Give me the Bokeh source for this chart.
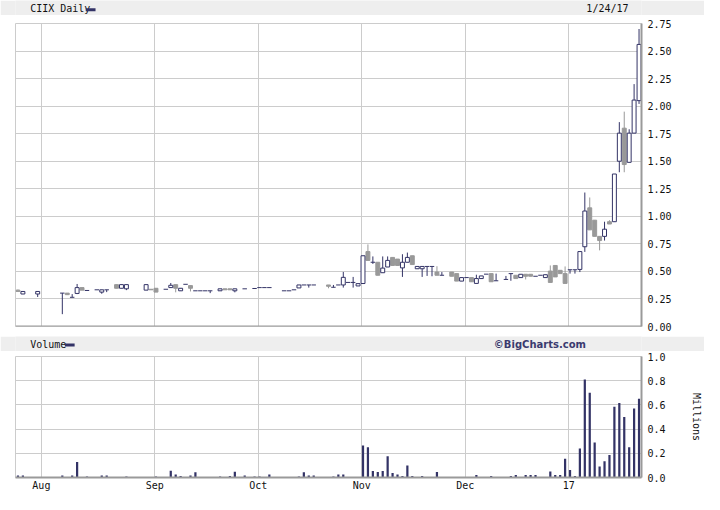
import math
from bokeh.plotting import figure
from bokeh.layouts import column
from bokeh.models import Range1d, FixedTicker, NumeralTickFormatter, ColumnDataSource, Span
from bokeh.core.properties import value
from bokeh.embed import file_html
from bokeh.resources import INLINE

# ---------------- data (trading days 25 Jul 2016 .. 24 Jan 2017) ----------------
N = None
opens = [0.330, 0.295, N, N, 0.295, N, N, N, N, 0.303,
         0.303, 0.265, 0.300, 0.353, 0.327, N, 0.333, 0.312, 0.333, N,
         0.380, 0.347, 0.342, N, N, N, 0.330, 0.338, 0.347, N,
         0.338, 0.353, 0.380, 0.324, 0.383, 0.371, 0.324, 0.324, 0.324, 0.324,
         N, 0.324, 0.342, 0.342, 0.324, N, 0.342, N, 0.345, 0.353,
         0.353, 0.353, N, N, 0.324, 0.324, 0.333, 0.350, 0.377, 0.377,
         0.377, N, N, 0.377, 0.356, 0.377, 0.377, 0.400, 0.400, 0.368,
         0.390, 0.680, 0.583, 0.583, 0.488, 0.540, 0.627, 0.612, 0.532, 0.583,
         0.642, 0.524, 0.524, 0.545, 0.545, 0.494, 0.465, N, 0.494, 0.480,
         0.412, 0.444, 0.444, 0.391, 0.435, 0.475, 0.480, 0.415, N, 0.427,
         0.480, 0.465, 0.444, 0.474, 0.474, 0.456, 0.465, 0.444, 0.503, 0.554,
         0.510, 0.480, 0.515, 0.515, 0.518, 0.724, 1.077, 0.965, 0.818, 0.818,
         0.951, 0.951, 1.500, 1.800, 1.490, 1.755, 2.050]
highs = [0.336, 0.318, N, N, 0.318, N, N, N, N, 0.303,
         0.303, 0.294, 0.386, 0.353, 0.327, N, 0.333, 0.333, 0.333, N,
         0.380, 0.380, 0.380, N, N, N, 0.380, 0.338, 0.347, N,
         0.338, 0.395, 0.380, 0.347, 0.383, 0.371, 0.324, 0.324, 0.324, 0.324,
         N, 0.342, 0.342, 0.342, 0.342, N, 0.342, N, 0.345, 0.353,
         0.353, 0.353, N, N, 0.324, 0.324, 0.333, 0.377, 0.377, 0.377,
         0.377, N, N, 0.377, 0.377, 0.377, 0.495, 0.400, 0.450, 0.389,
         0.642, 0.745, 0.636, 0.583, 0.636, 0.636, 0.627, 0.612, 0.656, 0.671,
         0.642, 0.545, 0.545, 0.545, 0.545, 0.547, 0.494, N, 0.494, 0.480,
         0.444, 0.444, 0.444, 0.470, 0.459, 0.475, 0.480, 0.480, N, 0.459,
         0.480, 0.465, 0.474, 0.474, 0.474, 0.456, 0.465, 0.470, 0.554, 0.554,
         0.510, 0.545, 0.515, 0.515, 0.680, 1.216, 1.171, 0.965, 0.818, 0.951,
         0.965, 1.384, 1.855, 1.950, 1.790, 2.200, 2.700]
lows = [0.318, 0.294, N, N, 0.268, N, N, N, N, 0.112,
        0.289, 0.265, 0.294, 0.330, 0.327, N, 0.333, 0.297, 0.312, N,
        0.347, 0.347, 0.330, N, N, N, 0.330, 0.333, 0.312, N,
        0.338, 0.353, 0.310, 0.324, 0.383, 0.318, 0.324, 0.324, 0.324, 0.303,
        N, 0.324, 0.333, 0.333, 0.310, N, 0.342, N, 0.345, 0.353,
        0.353, 0.353, N, N, 0.324, 0.324, 0.333, 0.350, 0.377, 0.353,
        0.377, N, N, 0.347, 0.356, 0.377, 0.353, 0.400, 0.353, 0.368,
        0.390, 0.598, 0.568, 0.465, 0.488, 0.540, 0.554, 0.554, 0.450, 0.583,
        0.562, 0.524, 0.450, 0.459, 0.456, 0.465, 0.465, N, 0.456, 0.412,
        0.412, 0.444, 0.406, 0.391, 0.435, 0.475, 0.406, 0.415, N, 0.427,
        0.415, 0.435, 0.444, 0.427, 0.456, 0.456, 0.465, 0.444, 0.400, 0.450,
        0.480, 0.391, 0.480, 0.480, 0.494, 0.677, 0.877, 0.818, 0.691, 0.780,
        0.930, 0.951, 1.400, 1.400, 1.490, 1.755, 2.020]
closes = [0.318, 0.318, N, N, 0.318, N, N, N, N, 0.303,
          0.289, 0.265, 0.353, 0.330, 0.327, N, 0.333, 0.333, 0.333, N,
          0.347, 0.380, 0.380, N, N, N, 0.380, 0.333, 0.312, N,
          0.338, 0.374, 0.347, 0.347, 0.383, 0.347, 0.324, 0.324, 0.324, 0.324,
          N, 0.342, 0.333, 0.333, 0.342, N, 0.342, N, 0.345, 0.353,
          0.353, 0.353, N, N, 0.324, 0.324, 0.333, 0.377, 0.377, 0.377,
          0.377, N, N, 0.365, 0.356, 0.377, 0.446, 0.400, 0.400, 0.389,
          0.642, 0.600, 0.583, 0.465, 0.530, 0.600, 0.554, 0.554, 0.583, 0.627,
          0.562, 0.545, 0.545, 0.545, 0.545, 0.465, 0.465, N, 0.456, 0.412,
          0.444, 0.444, 0.406, 0.435, 0.459, 0.475, 0.406, 0.415, N, 0.427,
          0.480, 0.435, 0.474, 0.456, 0.456, 0.456, 0.465, 0.470, 0.400, 0.450,
          0.480, 0.391, 0.515, 0.515, 0.680, 1.048, 0.877, 0.818, 0.780, 0.883,
          0.930, 1.384, 1.755, 1.470, 1.755, 2.055, 2.560]
volume_m = [0.016, 0.016, 0, 0, 0, 0, 0, 0, 0, 0.016,
            0, 0.016, 0.128, 0, 0.008, 0, 0, 0.016, 0.016, 0,
            0, 0, 0.008, 0, 0, 0, 0, 0, 0.008, 0,
            0, 0.056, 0.024, 0.012, 0, 0.016, 0.043, 0, 0, 0,
            0, 0.008, 0, 0.012, 0.048, 0, 0.016, 0, 0.008, 0.008,
            0, 0.024, 0, 0, 0, 0, 0, 0.008, 0.043, 0.016,
            0.016, 0, 0, 0, 0.008, 0.024, 0.024, 0, 0, 0.005,
            0.265, 0.250, 0.053, 0.045, 0.053, 0.175, 0.037, 0.024, 0.013, 0.100,
            0.013, 0.005, 0.013, 0.005, 0.005, 0.045, 0, 0, 0.005, 0,
            0, 0, 0, 0.020, 0.005, 0.005, 0.013, 0.005, 0, 0,
            0.013, 0.020, 0, 0.020, 0.020, 0.020, 0.005, 0.005, 0.050, 0.020,
            0.020, 0.155, 0.061, 0.013, 0.240, 0.810, 0.700, 0.290, 0.090, 0.135,
            0.185, 0.585, 0.615, 0.500, 0.250, 0.570, 0.650]
month_start_day = [5, 28, 49, 70, 91, 112]
month_labels = ["Aug", "Sep", "Oct", "Nov", "Dec", "17"]
price_ticks = [0.25 * k for k in range(12)]
volume_ticks = [0.2 * k for k in range(6)]
last_date = "1/24/17"

# ---------------- styling ----------------
NAVY = "#333366"
GRAYC = "#999999"
GRID = "#cccccc"
BAND = "#eeeeee"
AXIS = "#9a9a9a"
TXT = "#111111"
MONO = "DejaVu Sans Mono"
W = 704
ndays = len(closes)
month_ticks = [d + 0.25 for d in month_start_day]

# split candles
hol = dict(x=[], top=[], bottom=[])
fil = dict(x=[], top=[], bottom=[])
flat = dict(x0=[], x1=[], y=[])
wn = dict(x=[], y0=[], y1=[])
wg = dict(x=[], y0=[], y1=[])
for i in range(ndays):
    o, h, l, c = opens[i], highs[i], lows[i], closes[i]
    if c is None:
        continue
    x = i + 0.5
    if c > o:
        hol["x"].append(x); hol["top"].append(c); hol["bottom"].append(o)
        wn["x"].append(x); wn["y0"].append(l); wn["y1"].append(h)
    elif c < o:
        fil["x"].append(x); fil["top"].append(o); fil["bottom"].append(c)
        wg["x"].append(x); wg["y0"].append(l); wg["y1"].append(h)
    else:
        flat["x0"].append(x - 0.45); flat["x1"].append(x + 0.45); flat["y"].append(c)
        wn["x"].append(x); wn["y0"].append(l); wn["y1"].append(h)


def band(h, left_text, dash_x, right_text, right_bold, ty):
    f = figure(width=W, height=h, x_range=Range1d(0, W), y_range=Range1d(0, h),
               output_backend="svg", toolbar_location=None,
               x_axis_location=None, y_axis_location=None, min_border=0,
               background_fill_color=BAND, border_fill_color=BAND, outline_line_color=None)
    f.xgrid.visible = False
    f.ygrid.visible = False
    f.text(x=[16.5], y=[ty], text=[left_text], text_font=value(MONO), text_font_size="10px",
           text_baseline="middle", text_align="left", text_color=TXT)
    f.quad(left=[dash_x], right=[dash_x + 11], bottom=[ty - 2.5], top=[ty + 0.5],
           fill_color=NAVY, line_color=None)
    if right_bold:
        f.text(x=[641.5], y=[ty], text=[right_text], text_font=value("DejaVu Sans"),
               text_font_size="10px", text_font_style="bold", text_baseline="middle",
               text_align="right", text_color="#3a3a6e")
    else:
        f.text(x=[642], y=[ty], text=[right_text], text_font=value(MONO),
               text_font_size="10px", text_baseline="middle", text_align="left",
               text_color=TXT)
    return f


head1 = band(15, "CIIX Daily", 79, last_date, False, 6.8)
head2 = band(15, "Volume", 55.5, "\u00a9BigCharts.com", True, 7.5)


def style_right_axis(f, ticks, fmt):
    ax = f.yaxis[0]
    ax.ticker = FixedTicker(ticks=ticks)
    ax.formatter = NumeralTickFormatter(format=fmt)
    ax.major_tick_line_color = None
    ax.minor_tick_line_color = None
    ax.major_tick_out = 0
    ax.major_label_standoff = 6
    ax.axis_line_color = AXIS
    ax.axis_line_width = 2
    ax.major_label_text_font = MONO
    ax.major_label_text_font_size = "10px"
    ax.major_label_text_color = TXT
    f.ygrid.grid_line_color = GRID
    f.xgrid.ticker = FixedTicker(ticks=month_ticks)
    f.xgrid.grid_line_color = GRID
    f.outline_line_color = GRID


# ---------------- price panel ----------------
p = figure(width=W, height=321, x_range=Range1d(0, ndays), y_range=Range1d(0, 2.75),
           output_backend="svg", toolbar_location=None,
           x_axis_location=None, y_axis_location="right",
           min_border_left=15, min_border_right=62, min_border_top=8, min_border_bottom=10)
style_right_axis(p, price_ticks, "0.00")
p.add_layout(Span(location=0, dimension="width", line_color=AXIS, line_width=2))

p.segment(x0="x", y0="y0", x1="x", y1="y1", source=ColumnDataSource(wn), line_color=NAVY, line_width=1)
p.segment(x0="x", y0="y0", x1="x", y1="y1", source=ColumnDataSource(wg), line_color=GRAYC, line_width=1)
p.vbar(x="x", top="top", bottom="bottom", width=0.8, source=ColumnDataSource(fil),
       fill_color=GRAYC, line_color=GRAYC, line_width=1)
p.vbar(x="x", top="top", bottom="bottom", width=0.8, source=ColumnDataSource(hol),
       fill_color="white", line_color=NAVY, line_width=1)
p.segment(x0="x0", y0="y", x1="x1", y1="y", source=ColumnDataSource(flat), line_color=NAVY, line_width=1)

# ---------------- volume panel ----------------
v = figure(width=W, height=143, x_range=p.x_range, y_range=Range1d(0, 1.0),
           output_backend="svg", toolbar_location=None,
           x_axis_location="below", y_axis_location="right",
           min_border_left=15, min_border_right=62, min_border_top=5, min_border_bottom=17)
style_right_axis(v, volume_ticks, "0.0")
va = v.yaxis[0]
va.axis_label = "Millions"
va.axis_label_standoff = 22
va.axis_label_text_font = MONO
va.axis_label_text_font_size = "10px"
va.axis_label_text_font_style = "normal"
va.axis_label_text_color = TXT

xa = v.xaxis[0]
xa.ticker = FixedTicker(ticks=month_ticks)
xa.major_label_overrides = {t: lab for t, lab in zip(month_ticks, month_labels)}
xa.major_tick_line_color = None
xa.minor_tick_line_color = None
xa.major_tick_out = 0
xa.major_label_standoff = 2
xa.axis_line_color = AXIS
xa.axis_line_width = 2
xa.major_label_text_font = MONO
xa.major_label_text_font_size = "10px"
xa.major_label_text_color = TXT

v.vbar(x=[i + 0.5 for i in range(ndays)], top=volume_m, bottom=0, width=0.45,
       fill_color=NAVY, line_color=None)

layout = column(head1, p, head2, v)
open("out.html", "w").write(file_html(layout, INLINE))
